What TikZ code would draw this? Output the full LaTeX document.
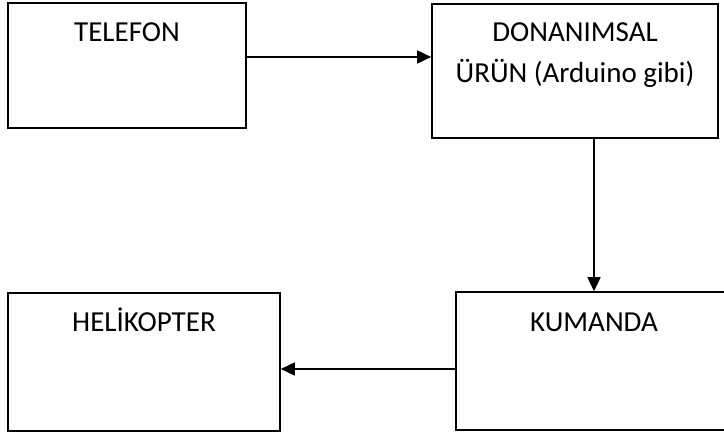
\documentclass[tikz,border=0pt]{standalone}
\usepackage{fontspec}
\setmainfont{Carlito}
\usepackage{tikz}
\usetikzlibrary{arrows.meta,calc}

\begin{document}
\begin{tikzpicture}[x=1pt,y=-1pt,
	box/.style={draw,line width=1.6pt,inner sep=0pt},
	lbl/.style={font=\fontsize{29}{41}\selectfont,align=center,inner sep=0pt,anchor=base},
	arr/.style={line width=1.6pt,-{Triangle[length=14pt,width=13pt]}}]
	\useasboundingbox (0,0) rectangle (724,437);
	\clip (0,0) rectangle (724,437);
		    \node[box,minimum width=238,minimum height=125] (telefon) at (127,65.5) {};
		    \node[box,minimum width=286,minimum height=134] (donanim) at (575,71) {};
		    \node[box,minimum width=276,minimum height=138] (kumanda) at (594,361) {};
		    \node[box,minimum width=272,minimum height=138] (heli) at (144,362) {};
		    \node[lbl] (telefonT) at ([yshift=-39pt]telefon.north) {TELEFON};
		    \node[lbl] (donanimT) at ([yshift=-79pt]donanim.north) {DONANIMSAL\\ÜRÜN (Arduino gibi)};
		    \node[lbl] (kumandaT) at ([yshift=-40pt]kumanda.north) {KUMANDA};
		    \node[lbl] (heliT) at ([yshift=-39pt]heli.north) {HELİKOPTER};
    \draw[arr] ([yshift=8.5pt]telefon.east)--([yshift=8.5pt]telefon.east -| donanim.west);
    \draw[arr] (donanim.south -| kumanda.north)--(kumanda.north);
    \draw[arr] ([yshift=-8pt]kumanda.west)--([yshift=-8pt]kumanda.west -| heli.east);
	\end{tikzpicture}
\end{document}
